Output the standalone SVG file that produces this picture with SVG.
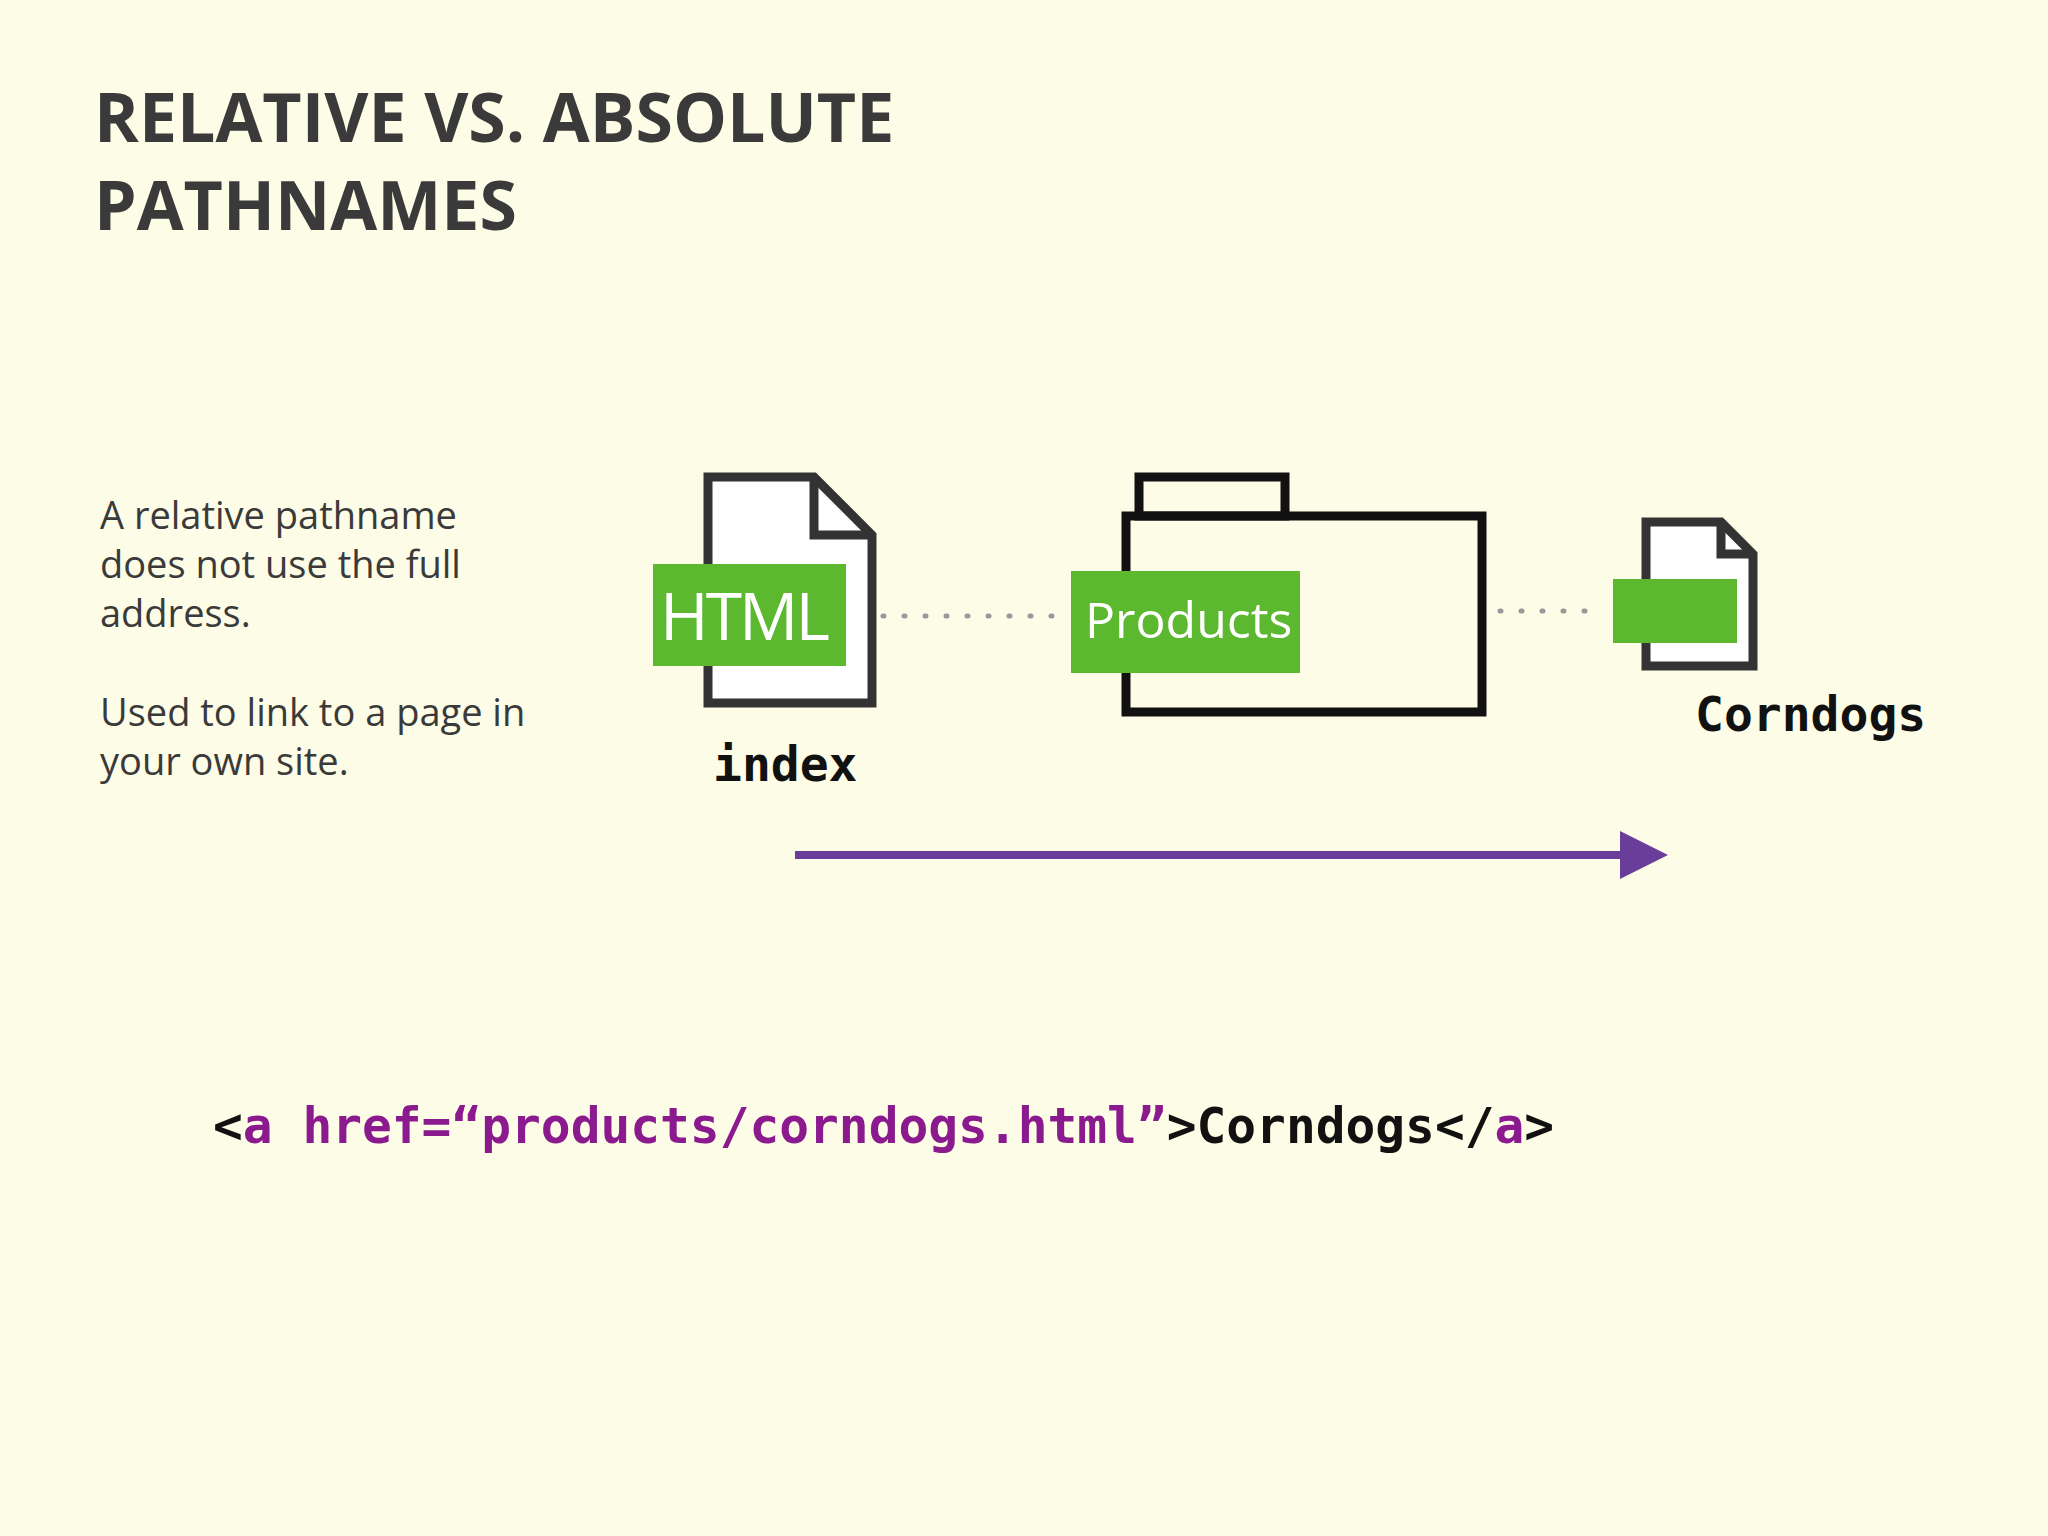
<svg xmlns="http://www.w3.org/2000/svg" width="2048" height="1536" viewBox="0 0 2048 1536">
<style>
.title{font-family:"Open Sans","Liberation Sans",sans-serif;font-weight:bold;font-size:68px;fill:#3a3a3a;letter-spacing:0px}
.body{font-family:"Open Sans","Liberation Sans",sans-serif;font-size:38px;fill:#3a3a3a}
.lbl{font-family:"DejaVu Sans Mono",monospace;font-weight:bold;font-size:48px;fill:#111}
.gt{font-family:"Open Sans","Liberation Sans",sans-serif;fill:#fff}
.code{font-family:"DejaVu Sans Mono",monospace;font-weight:bold;font-size:49.5px;fill:#111}
.p{fill:#8a1a8e}
.outline{fill:#fff;stroke:#333;stroke-width:9}
.green{fill:#5cb82e}
.dots{stroke:#999;stroke-width:5;stroke-dasharray:1 20;stroke-linecap:round}
</style>
<defs><marker id="ah" markerWidth="6" markerHeight="6" refX="5" refY="3" orient="auto" markerUnits="strokeWidth"><path d="M0,0 L6,3 L0,6 z" fill="#6a3d9a"/></marker></defs>
<rect width="2048" height="1536" fill="#fdfce6"/>
<text class="title" x="94" y="142">RELATIVE VS. ABSOLUTE</text>
<text class="title" x="94" y="230">PATHNAMES</text>
<g class="body">
<text x="100" y="529">A relative pathname</text>
<text x="100" y="578">does not use the full</text>
<text x="100" y="627">address.</text>
<text x="100" y="726">Used to link to a page in</text>
<text x="100" y="775">your own site.</text>
</g>
<g id="connectors">
<line class="dots" x1="883" y1="616" x2="1064" y2="616"/>
<line class="dots" x1="1500" y1="611" x2="1600" y2="611"/>
<line x1="795" y1="855" x2="1660" y2="855" stroke="#6a3d9a" stroke-width="8" marker-end="url(#ah)"/>
</g>
<g id="index">
<path class="outline" d="M708,477 H814 L872,535 V703 H708 Z"/>
<path d="M814,477 V535 H872" fill="none" stroke="#333" stroke-width="9"/>
<rect class="green" x="653" y="564" width="193" height="102"/>
<text class="gt" x="660" y="640" font-size="66" letter-spacing="-3">HTML</text>
<text class="lbl" x="713" y="781">index</text>
</g>
<g id="products">
<rect x="1139" y="477" width="146" height="39" fill="none" stroke="#111" stroke-width="9"/>
<rect x="1126" y="516" width="356" height="196" fill="none" stroke="#111" stroke-width="9"/>
<rect class="green" x="1071" y="571" width="229" height="102"/>
<text class="gt" x="1085" y="638" font-size="50">Products</text>
</g>
<g id="corndogs">
<path class="outline" d="M1646,522 H1721 L1753,554 V666 H1646 Z"/>
<path d="M1721,522 V554 H1753" fill="none" stroke="#333" stroke-width="9"/>
<rect class="green" x="1613" y="579" width="124" height="64"/>
<text class="lbl" x="1695" y="731">Corndogs</text>
</g>
<text class="code" x="213" y="1143">&lt;<tspan class="p">a href=“products/corndogs.html”</tspan>&gt;Corndogs&lt;/<tspan class="p">a</tspan>&gt;</text>
</svg>
